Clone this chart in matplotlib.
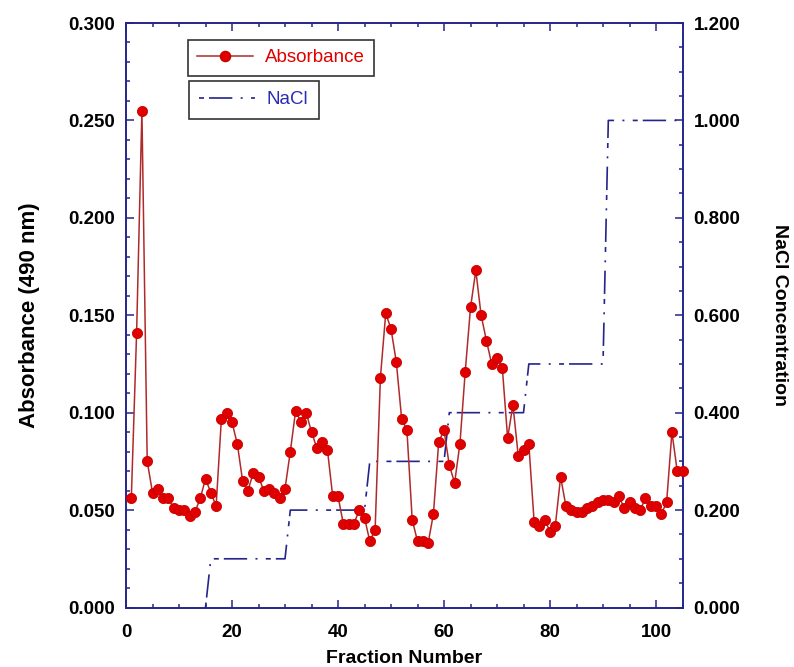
import numpy as np
import matplotlib
matplotlib.use("Agg")
import matplotlib.pyplot as plt
from matplotlib.ticker import MultipleLocator, FormatStrFormatter
from matplotlib.lines import Line2D

plt.rcParams['font.family'] = ['Liberation Sans', 'DejaVu Sans']

# fraction numbers and absorbance
fraction = list(range(1, 106))
absorbance = [
    0.056, 0.141, 0.255, 0.075, 0.059, 0.061, 0.056, 0.056, 0.051, 0.050,
    0.050, 0.047, 0.049, 0.056, 0.066, 0.059, 0.052, 0.097, 0.100, 0.095,
    0.084, 0.065, 0.060, 0.069, 0.067, 0.060, 0.061, 0.059, 0.056, 0.061,
    0.080, 0.101, 0.095, 0.100, 0.090, 0.082, 0.085, 0.081, 0.057, 0.057,
    0.043, 0.043, 0.043, 0.050, 0.046, 0.034, 0.040, 0.118, 0.151, 0.143,
    0.126, 0.097, 0.091, 0.045, 0.034, 0.034, 0.033, 0.048, 0.085, 0.091,
    0.073, 0.064, 0.084, 0.121, 0.154, 0.173, 0.150, 0.137, 0.125, 0.128,
    0.123, 0.087, 0.104, 0.078, 0.081, 0.084, 0.044, 0.042, 0.045, 0.039,
    0.042, 0.067, 0.052, 0.050, 0.049, 0.049, 0.051, 0.052, 0.054, 0.055,
    0.055, 0.054, 0.057, 0.051, 0.054, 0.051, 0.050, 0.056, 0.052, 0.052,
    0.048, 0.054, 0.090, 0.070, 0.070,
]

# NaCl gradient breakpoints (zero before fraction 15 lies on the axis)
nacl_x = [15, 16, 30, 31, 45, 46, 60, 61, 75, 76, 90, 91, 105]
nacl_y = [0, 0.1, 0.1, 0.2, 0.2, 0.3, 0.3, 0.4, 0.4, 0.5, 0.5, 1.0, 1.0]

navy = '#24248c'
red_line = '#b02a2a'
red_mark = '#e00000'
blue = '#2b2bb5'
nacl_dash = (0, (3, 3, 14, 5, 1.2, 5))

fig = plt.figure(figsize=(7.94, 6.67), dpi=100)
ax = fig.add_axes([0.1587, 0.0892, 0.7009, 0.8763])
ax2 = ax.twinx()

ax.plot(fraction, absorbance, color=red_line, lw=1.1, marker='o', ms=7.3,
        mfc=red_mark, mec='#c80000', mew=0.6, clip_on=False, zorder=3)
ax2.plot(nacl_x, nacl_y, color=navy, lw=1.2, linestyle=nacl_dash)

ax.set_zorder(ax2.get_zorder() + 1)
ax.patch.set_visible(False)

ax.set_xlim(0, 105)
ax.set_ylim(0, 0.3)
ax2.set_ylim(0, 1.2)

ax.xaxis.set_major_locator(MultipleLocator(20))
ax.xaxis.set_minor_locator(MultipleLocator(5))
ax.yaxis.set_major_locator(MultipleLocator(0.05))
ax.yaxis.set_minor_locator(MultipleLocator(0.01))
ax.yaxis.set_major_formatter(FormatStrFormatter('%.3f'))
ax2.yaxis.set_major_locator(MultipleLocator(0.2))
ax2.yaxis.set_minor_locator(MultipleLocator(0.05))
ax2.yaxis.set_major_formatter(FormatStrFormatter('%.3f'))

for a in (ax, ax2):
    for s in a.spines.values():
        s.set_color(navy)
        s.set_linewidth(1.2)
    a.tick_params(which='both', direction='in', color=navy, width=1.1,
                  labelsize=13.5, pad=8)
    a.tick_params(which='major', length=6)
    a.tick_params(which='minor', length=3)
ax.tick_params(axis='x', which='both', top=True, pad=12)
ax.tick_params(axis='y', which='both', right=False)
for lab in ax.get_xticklabels() + ax.get_yticklabels() + ax2.get_yticklabels():
    lab.set_fontweight('bold')

ax.set_xlabel('Fraction Number', fontsize=14, fontweight='bold', labelpad=6)
ax.set_ylabel('Absorbance (490 nm)', fontsize=16, fontweight='bold', labelpad=20)
ax2.set_ylabel('NaCl Concentration', fontsize=14, fontweight='bold',
               rotation=270, labelpad=34)

# two separate legend boxes
h1 = Line2D([], [], color=red_line, lw=1.1, marker='o', ms=7.3, mfc=red_mark,
            mec='#c80000')
h2 = Line2D([], [], color=navy, lw=1.2, linestyle=nacl_dash)
leg1 = ax.legend([h1], ['Absorbance'], loc='upper left',
                 bbox_to_anchor=(0.111, 0.971), fancybox=False, fontsize=13.5,
                 handlelength=3, borderpad=0.5, handletextpad=0.6,
                 labelcolor=red_mark, borderaxespad=0)
leg1.get_frame().set_edgecolor('black')
leg1.get_frame().set_linewidth(1.2)
ax.add_artist(leg1)
leg2 = ax.legend([h2], ['NaCl'], loc='upper left',
                 bbox_to_anchor=(0.113, 0.901), fancybox=False, fontsize=13.5,
                 handlelength=3, borderpad=0.55, handletextpad=0.6,
                 labelcolor=blue, borderaxespad=0)
leg2.get_frame().set_edgecolor('black')
leg2.get_frame().set_linewidth(1.2)

plt.savefig('out.png', dpi=100)
